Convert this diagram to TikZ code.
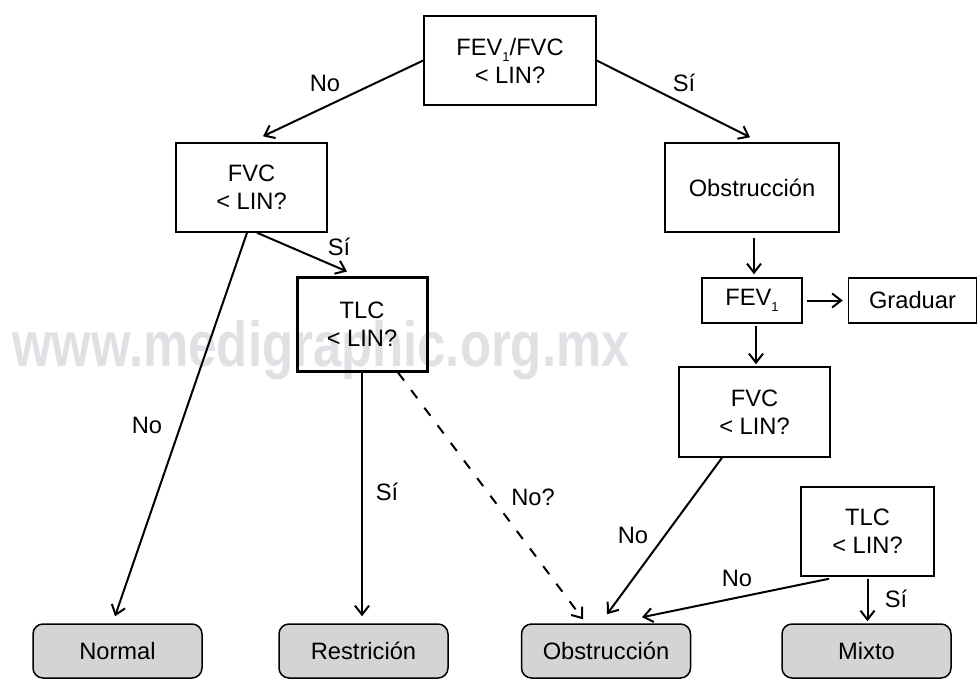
\documentclass[tikz,border=0pt]{standalone}
\usepackage{fontspec}
\setmainfont{Liberation Sans}
\usetikzlibrary{arrows.meta,positioning}
\definecolor{grisF}{RGB}{212,212,214}
\definecolor{grisM}{RGB}{224,225,228}
\newcommand{\lin}{< LIN?}
\newcommand{\indice}[1]{\raisebox{-3pt}{\fontsize{6.5}{7}\selectfont #1}}
\tikzset{
  caja/.style={rectangle, draw=black, line width=0.75pt, align=center, inner sep=0pt,
               font=\fontsize{11.85}{14}\selectfont},
  final/.style={caja, rounded corners=5pt, fill=grisF, minimum width=84.5pt, minimum height=27pt},
  etiq/.style={inner sep=0pt, font=\fontsize{11.85}{14}\selectfont},
  arr/.style={-{Straight Barb[length=4.5pt,width=7pt]}, line width=1pt},
}

\begin{document}
\begin{tikzpicture}[x=0.5pt, y=-0.5pt]
  \useasboundingbox (0,0) rectangle (979,680);
  \node[anchor=base west, inner sep=0pt, text=grisM, font=\fontsize{31.8}{32}\selectfont\bfseries]
    (marca) at (12,366) {\scalebox{0.8}[1]{www.medigraphic.org.mx}};
  \node[caja, minimum width=86pt, minimum height=44.5pt] (q1) at (510,60.5) {FEV\indice{1}/FVC\\\lin};
  \node[caja, minimum width=75.5pt, minimum height=44.5pt] (q2) at (251.5,187.5) {FVC\\\lin};
  \node[caja, minimum width=87pt, minimum height=44.5pt] (obs) at (752,187.5) {Obstrucción};
  \node[caja, minimum width=50pt, minimum height=22.5pt] (fev) at (752,300.5) {FEV\indice{1}};
  \node[caja, minimum width=64pt, minimum height=22.5pt, right=22.5pt of fev] (grad) {Graduar};
  \node[caja, minimum width=75.5pt, minimum height=45pt] (q3) at (754.5,412) {FVC\\\lin};
  \node[caja, minimum width=66.5pt, minimum height=44.5pt] (q4) at (867.5,531.5) {TLC\\\lin};
  \node[caja, line width=1.5pt, minimum width=65pt, minimum height=47pt] (q5) at (362,324) {TLC\\\lin};
  \node[final] (normal) at (117.5,651) {Normal};
  \node[final] (restr) at (363.5,651) {Restrición};
  \node[final] (obsf) at (606,651) {Obstrucción};
  \node[final] (mixto) at (866.5,651) {Mixto};

  \draw[arr] (q1.west) -- ([xshift=5.75pt,yshift=3pt]q2.north);
  \draw[arr] (q1.east) -- ([xshift=-1pt,yshift=2.5pt]obs.north);
  \draw[arr] ([xshift=-2.25pt]q2.south) -- ([xshift=-1.25pt,yshift=3.5pt]normal.north);
  \draw[arr] ([xshift=2.75pt]q2.south) -- ([xshift=-7.5pt,yshift=2pt]q5.north);
  \draw[arr] (q5.south) -- ([yshift=3.5pt]q5.south |- restr.north);
  \draw[arr, dash pattern=on 5pt off 6pt] ([xshift=18pt]q5.south) -- ([xshift=-11.5pt,yshift=2pt]obsf.north);
  \draw[arr] ([xshift=1pt,yshift=-2.5pt]obs.south) -- ([xshift=1pt,yshift=1.5pt]fev.north);
  \draw[arr] ([xshift=2pt]fev.east) -- ([xshift=-2.5pt]grad.west);
  \draw[arr] ([xshift=2pt,yshift=-1pt]fev.south) -- ([xshift=0.75pt,yshift=1pt]q3.north);
  \draw[arr] ([xshift=-16.25pt]q3.south) -- ([xshift=0.5pt,yshift=4.5pt]obsf.north);
  \draw[arr] ([xshift=-19.25pt,yshift=-1pt]q4.south) -- ([xshift=18pt,yshift=3pt]obsf.north);
  \draw[arr] ([yshift=-1pt]q4.south) -- ([yshift=1pt]q4.south |- mixto.north);

  \node[etiq] (l1) at (325,83) {No};
  \node[etiq] (l2) at (684,83) {Sí};
  \node[etiq] (l3) at (339,247) {Sí};
  \node[etiq] (l4) at (147,425) {No};
  \node[etiq] (l5) at (387,492) {Sí};
  \node[etiq] (l6) at (533,497) {No?};
  \node[etiq] (l7) at (633,535) {No};
  \node[etiq] (l8) at (737,578) {No};
  \node[etiq] (l9) at (896,599) {Sí};
\end{tikzpicture}
\end{document}
